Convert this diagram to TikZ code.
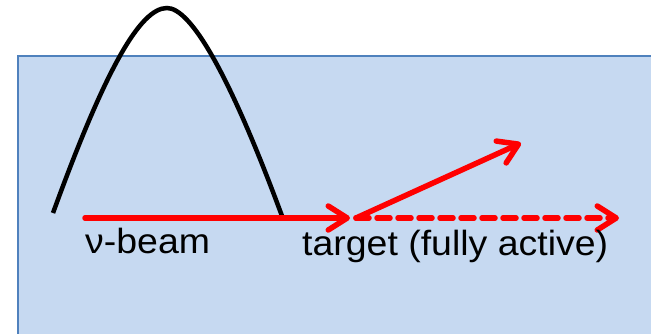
\documentclass[tikz,border=0pt]{standalone}
\usepackage{fontspec}
\setmainfont{Liberation Sans}
\usetikzlibrary{arrows.meta}
\definecolor{boxfill}{HTML}{C6D9F1}
\definecolor{boxline}{HTML}{4F81BD}
\definecolor{beamred}{HTML}{FF0000}
\begin{document}
\begin{tikzpicture}[x=1pt,y=-1pt,
  redarrow/.style={draw=beamred,line width=5.5pt,line cap=round,
    -{Straight Barb[length=19pt,width=24pt,line width=5.5pt,round]}},
  lbl/.style={inner sep=0pt,anchor=base west,font=\fontsize{35}{38}\selectfont,xscale=1.07}]
\useasboundingbox (0,0) rectangle (651,333);
\fill[boxfill] (18,56) rectangle (660,340);
\draw[boxline,line width=2pt] (660,56) -- (18,56) -- (18,340);
\draw[black,line width=4.5pt] (53,213) .. controls (105,70) and (140,8) .. (167,8)
  .. controls (190,8) and (228,70) .. (282,216);
\coordinate (bstart) at (85,218);
\coordinate (target) at (350,218);
\coordinate (vtx) at (356,218);
\coordinate (fwd) at (619,218);
\coordinate (scat) at (521,143);
\draw[redarrow] (bstart) -- (target);
\draw[redarrow] (vtx) -- (scat);
\draw[redarrow,dash pattern=on 13pt off 8pt] (vtx) -- (fwd);
\node[lbl] (nulbl) at (85,253) {ν-beam};
\node[lbl] (tlbl) at (302,255) {target (fully active)};
\end{tikzpicture}
\end{document}
